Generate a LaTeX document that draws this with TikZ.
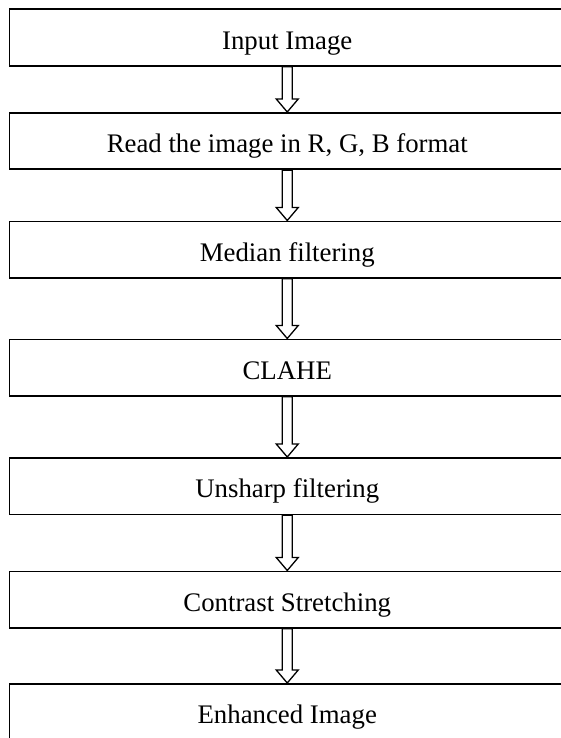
\documentclass[tikz,border=0pt]{standalone}
\usepackage{fontspec}
\setmainfont{Liberation Serif}
\usetikzlibrary{calc}
\tikzset{
  procbox/.style={draw=black, line width=1.8pt, anchor=north, inner xsep=0pt, inner ysep=0pt,
    minimum width=555.5pt, text height=40pt, text depth=16.5pt,
    font=\fontsize{26.8}{32}\selectfont},
  hollowarr/.style={draw=black, fill=white, line width=1.3pt, line join=miter}
}
\newcommand\hollowconn[2]{%
  \draw[hollowarr] ($(#1.south)+(-5pt,0)$) -- ($(#2.north)+(-5pt,13pt)$) -- ++(-6pt,0)
    -- (#2.north) -- ++(11pt,13pt) -- ++(-6pt,0) -- ($(#1.south)+(5pt,0)$) -- cycle;}
\begin{document}
\begin{tikzpicture}[x=1pt,y=1pt]
\useasboundingbox (0,0) rectangle (560,-738);
\node[procbox] (b1) at (287.25,-8.5) {Input Image};
\node[procbox] (b2) at (287.25,-112) {Read the image in R, G, B format};
\node[procbox] (b3) at (287.25,-220.5) {Median filtering};
\node[procbox] (b4) at (287.25,-338.5) {CLAHE};
\node[procbox] (b5) at (287.25,-457) {Unsharp filtering};
\node[procbox] (b6) at (287.25,-570.5) {Contrast Stretching};
\node[procbox] (b7) at (287.25,-683) {Enhanced Image};
\hollowconn{b1}{b2}
\hollowconn{b2}{b3}
\hollowconn{b3}{b4}
\hollowconn{b4}{b5}
\hollowconn{b5}{b6}
\hollowconn{b6}{b7}
\end{tikzpicture}
\end{document}
